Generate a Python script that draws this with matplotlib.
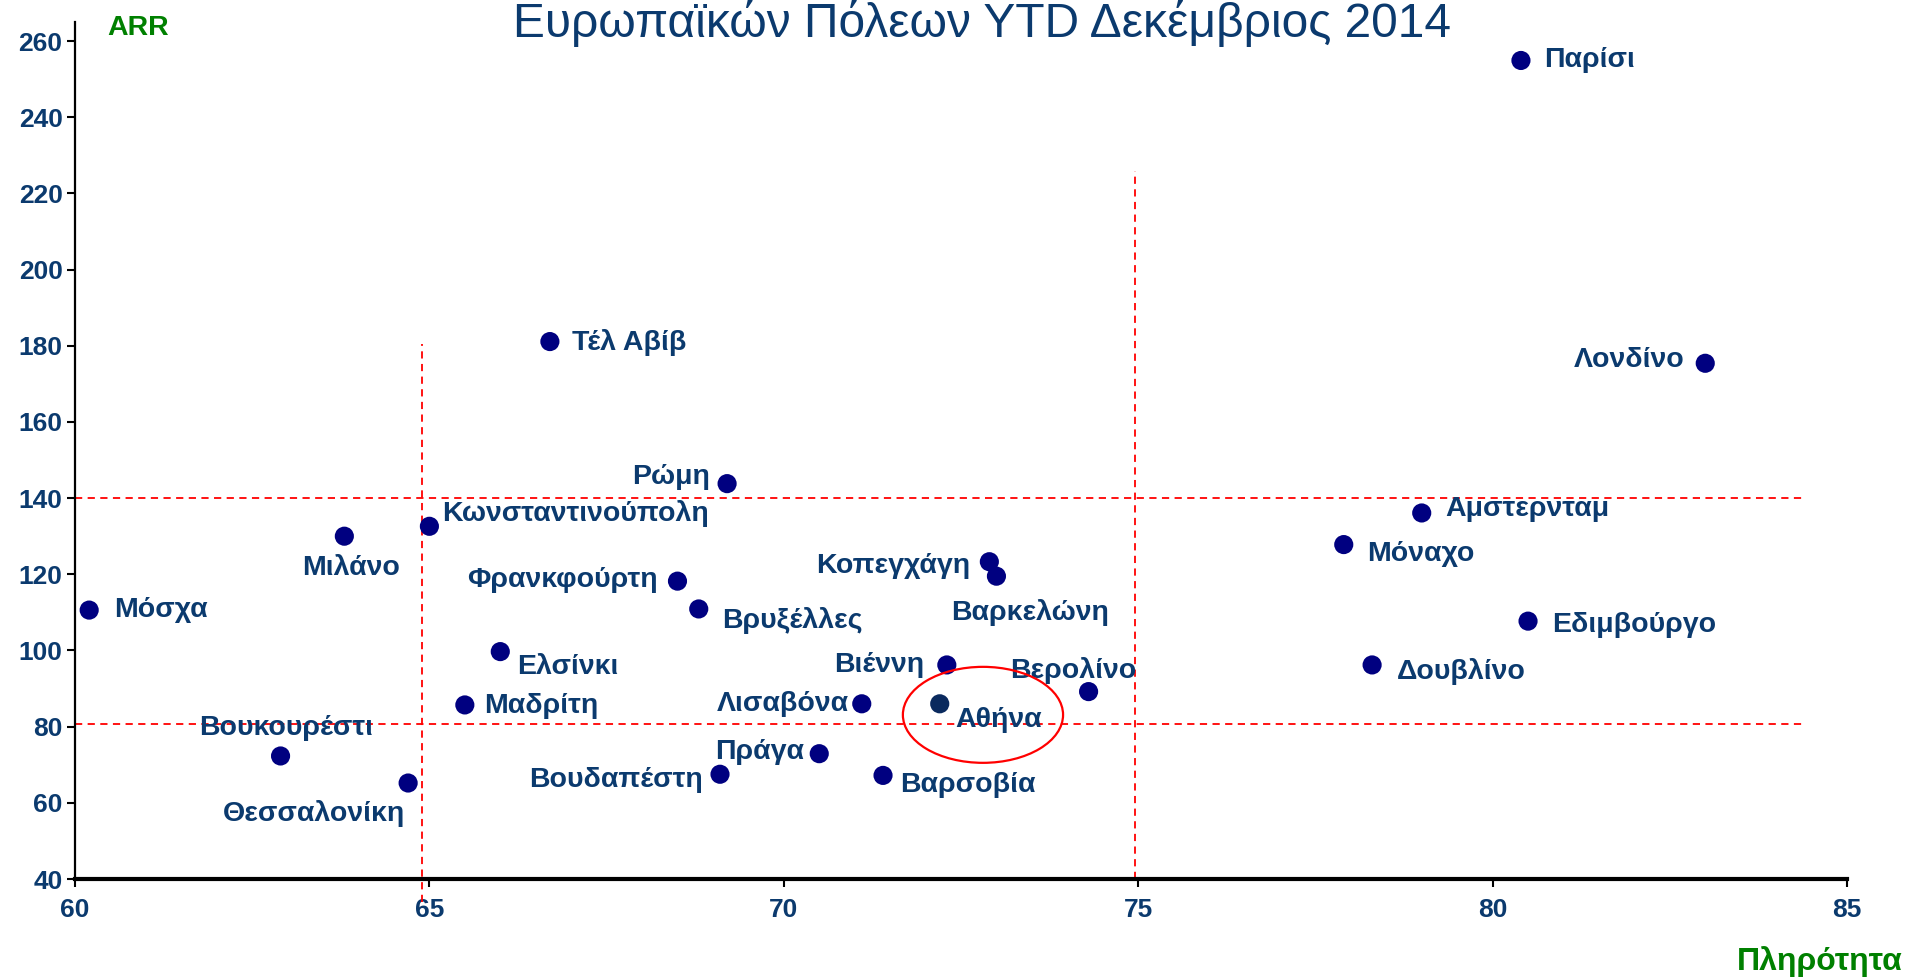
import matplotlib.pyplot as plt
from matplotlib.patches import Ellipse

plt.rcParams['font.family'] = ['Liberation Sans', 'DejaVu Sans']

# Πληρότητα (%) και ARR ανά πόλη, YTD Δεκέμβριος 2014
cities = ['Παρίσι', 'Λονδίνο', 'Τέλ Αβίβ', 'Ρώμη', 'Αμστερνταμ', 'Κωνσταντινούπολη',
          'Μιλάνο', 'Μόναχο', 'Κοπεγχάγη', 'Βαρκελώνη', 'Φρανκφούρτη', 'Μόσχα',
          'Βρυξέλλες', 'Εδιμβούργο', 'Ελσίνκι', 'Βιέννη', 'Δουβλίνο', 'Βερολίνο',
          'Λισαβόνα', 'Αθήνα', 'Μαδρίτη', 'Πράγα', 'Βουκουρέστι', 'Βουδαπέστη',
          'Βαρσοβία', 'Θεσσαλονίκη']
occupancy = [80.4, 83.0, 66.7, 69.2, 79.0, 65.0,
             63.8, 77.9, 72.9, 73.0, 68.5, 60.2,
             68.8, 80.5, 66.0, 72.3, 78.3, 74.3,
             71.1, 72.2, 65.5, 70.5, 62.9, 69.1,
             71.4, 64.7]
arr = [254.9, 175.4, 181.1, 143.8, 136.1, 132.6,
       130.0, 127.8, 123.3, 119.5, 118.2, 110.6,
       110.9, 107.7, 99.7, 96.2, 96.2, 89.2,
       86.0, 86.0, 85.7, 72.9, 72.3, 67.5,
       67.2, 65.2]

# label offsets in points and horizontal alignment
offsets = {
    'Παρίσι': (17, 0, 'left'), 'Λονδίνο': (-15, 2, 'right'),
    'Τέλ Αβίβ': (16, -1, 'left'), 'Ρώμη': (-12, 5, 'right'),
    'Αμστερνταμ': (17, 3, 'left'), 'Κωνσταντινούπολη': (9, 9, 'left'),
    'Μιλάνο': (5, -23, 'center'), 'Μόναχο': (17, -7, 'left'),
    'Κοπεγχάγη': (-14, -3, 'right'), 'Βαρκελώνη': (24, -26, 'center'),
    'Φρανκφούρτη': (-14, 1, 'right'), 'Μόσχα': (18, 0, 'left'),
    'Βρυξέλλες': (17, -8, 'left'), 'Εδιμβούργο': (17, -3, 'left'),
    'Ελσίνκι': (12, -11, 'left'), 'Βιέννη': (-16, 0, 'right'),
    'Δουβλίνο': (18, -5, 'left'), 'Βερολίνο': (-11, 15, 'center'),
    'Λισαβόνα': (-9, 0, 'right'), 'Αθήνα': (11, -12, 'left'),
    'Μαδρίτη': (14, -1, 'left'), 'Πράγα': (-11, 1, 'right'),
    'Βουκουρέστι': (4, 20, 'center'), 'Βουδαπέστη': (-12, -4, 'right'),
    'Βαρσοβία': (12, -7, 'left'), 'Θεσσαλονίκη': (-2, -22, 'right'),
}

navy = '#000080'
text_blue = '#0b3a6e'
green = '#008000'

fig = plt.figure(figsize=(19.07, 9.80), dpi=100)
ax = fig.add_axes([75 / 1907, 101 / 980, 1772 / 1907, 857 / 980])

colors = ['#0a2a5e' if c == 'Αθήνα' else navy for c in cities]
ax.scatter(occupancy, arr, s=190, c=colors, zorder=3, linewidths=0)

for c, x, y in zip(cities, occupancy, arr):
    dx, dy, ha = offsets[c]
    ax.annotate(c, (x, y), xytext=(dx, dy), textcoords='offset points',
                ha=ha, va='center', fontsize=20.5, fontweight='bold',
                color=text_blue, zorder=4)

# reference lines
ax.plot([60, 84.4], [140, 140], ls=(0, (4, 3)), color='red', lw=1.3, zorder=2)
ax.plot([60, 84.4], [80.8, 80.8], ls=(0, (4, 3)), color='red', lw=1.3, zorder=2)
ax.plot([64.9, 64.9], [34, 180.5], ls=(0, (4, 3)), color='red', lw=1.3,
        zorder=2, clip_on=False)
ax.plot([74.95, 74.95], [40, 226], ls=(0, (4, 3)), color='red', lw=1.3, zorder=2)

ax.add_patch(Ellipse((72.81, 83.1), 2.26, 25.2, fill=False, edgecolor='red',
                     lw=1.6, zorder=5))

ax.set_xlim(60, 85)
ax.set_ylim(40, 265)
ax.set_xticks(range(60, 86, 5))
ax.set_yticks(range(40, 261, 20))

for s in ['top', 'right']:
    ax.spines[s].set_visible(False)
ax.spines['left'].set_linewidth(1.6)
ax.spines['bottom'].set_linewidth(3)
ax.tick_params(axis='both', direction='out', length=6, width=1.5,
               labelsize=19, labelcolor=text_blue)
ax.tick_params(axis='y', pad=3)
ax.tick_params(axis='x', pad=8)
for lbl in ax.get_xticklabels() + ax.get_yticklabels():
    lbl.set_fontweight('bold')

fig.text(0.515, 0.962, 'Ευρωπαϊκών Πόλεων YTD Δεκέμβριος 2014', ha='center',
         va='baseline', fontsize=34.5, color=text_blue)
fig.text(107 / 1907, 1 - 35 / 980, 'ARR', ha='left', va='baseline',
         fontsize=20.5, fontweight='bold', color=green)
fig.text(1903 / 1907, 1 - 970 / 980, 'Πληρότητα', ha='right', va='baseline',
         fontsize=23, fontweight='bold', color=green)

fig.savefig('out.png', dpi=100)
